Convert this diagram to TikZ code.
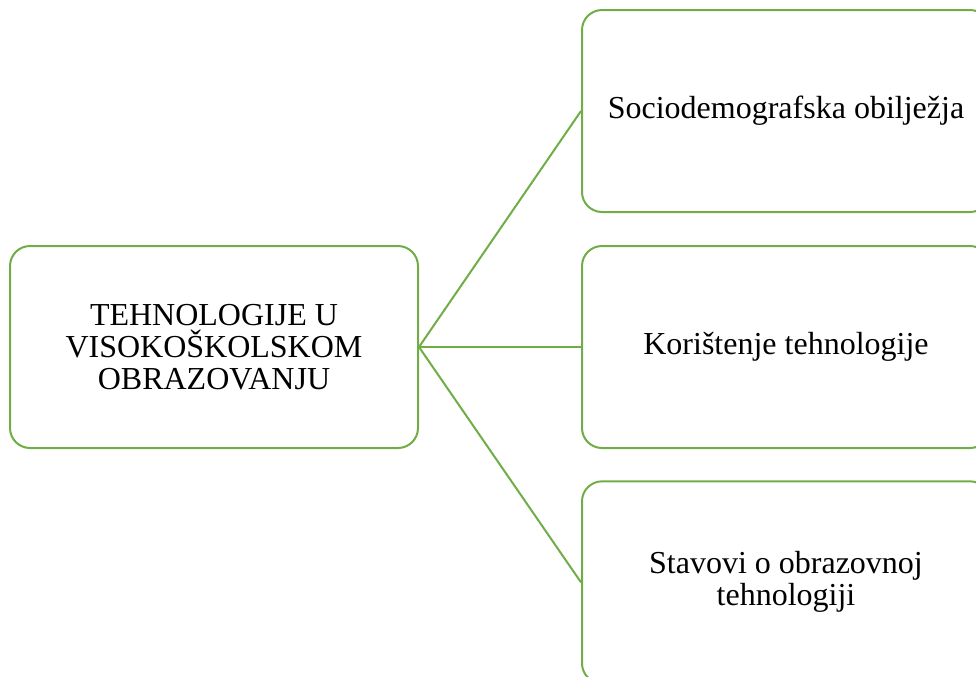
\documentclass[tikz,border=0pt]{standalone}
\usepackage{fontspec}
\setmainfont{Liberation Serif}
\usetikzlibrary{positioning}
\definecolor{zelena}{HTML}{70AD47}
\tikzstyle{okvir} = [draw=zelena, line width=1.5pt, rounded corners=15pt, minimum width=306pt, minimum height=151.5pt, align=center, font=\fontsize{24}{24}\selectfont]
\tikzstyle{veza} = [draw=zelena, line width=1.5pt]

\begin{document}
\begin{tikzpicture}[x=0.75pt, y=-0.75pt]
  \useasboundingbox (0,0) rectangle (976,676);
  \clip (0,0) rectangle (976,676);
  % Nodes
  \node (tehnologije) [okvir] at (214,347) {TEHNOLOGIJE U\\VISOKOŠKOLSKOM\\OBRAZOVANJU};
  \node (koristenje) [okvir, right=121.5pt of tehnologije] {Korištenje tehnologije};
  \node (socio) [okvir, above=24pt of koristenje] {Sociodemografska obilježja};
  \node (stavovi) [okvir, below=23.5pt of koristenje] {Stavovi o obrazovnoj\\tehnologiji};

  % Lines
  \draw[veza] (tehnologije.east) -- (socio.west);
  \draw[veza] (tehnologije.east) -- (koristenje.west);
  \draw[veza] (tehnologije.east) -- (stavovi.west);
\end{tikzpicture}
\end{document}
